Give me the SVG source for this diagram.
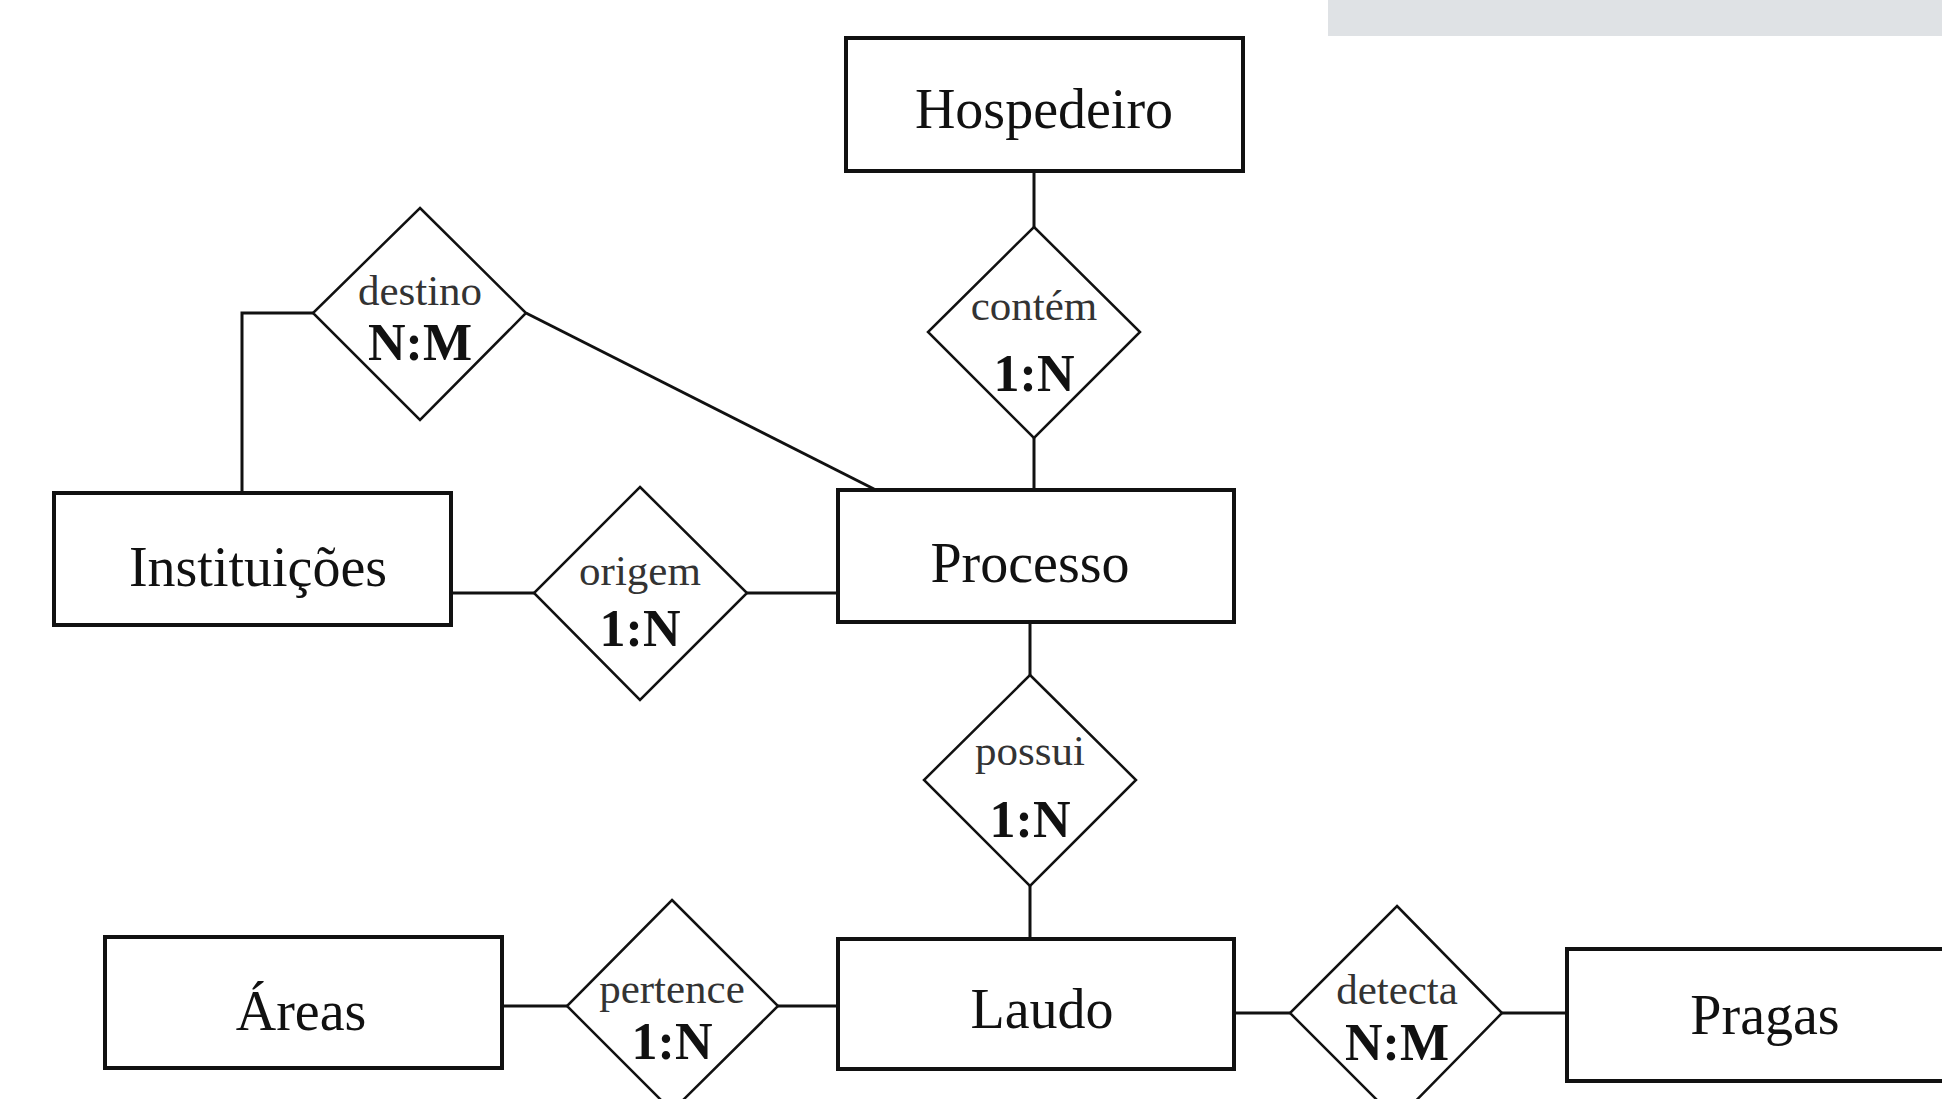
<svg xmlns="http://www.w3.org/2000/svg" width="1942" height="1099" viewBox="0 0 1942 1099">
<style>
.ent{fill:#fff;stroke:#111;stroke-width:4}
.rel{fill:#fff;stroke:#111;stroke-width:2.5}
.con{fill:none;stroke:#111;stroke-width:3}
.et{font-family:"Liberation Serif",serif;font-size:56px;fill:#111;text-anchor:middle}
.rt{font-family:"Liberation Serif",serif;font-size:43px;fill:#333;text-anchor:middle}
.rc{font-family:"Liberation Serif",serif;font-size:52px;font-weight:bold;fill:#111;text-anchor:middle}
</style>
<rect x="1328" y="0" width="614" height="36" fill="#dfe2e5"/>
<g id="connectors">
<line class="con" x1="1034" y1="171" x2="1034" y2="227"/>
<line class="con" x1="1034" y1="438" x2="1034" y2="490"/>
<polyline class="con" points="313,313 242,313 242,493"/>
<line class="con" x1="526" y1="313" x2="874" y2="489"/>
<line class="con" x1="451" y1="593" x2="534" y2="593"/>
<line class="con" x1="747" y1="593" x2="838" y2="593"/>
<line class="con" x1="1030" y1="622" x2="1030" y2="675"/>
<line class="con" x1="1030" y1="886" x2="1030" y2="939"/>
<line class="con" x1="502" y1="1006" x2="567" y2="1006"/>
<line class="con" x1="778" y1="1006" x2="838" y2="1006"/>
<line class="con" x1="1234" y1="1013" x2="1290" y2="1013"/>
<line class="con" x1="1502" y1="1013" x2="1567" y2="1013"/>
</g>
<g id="hospedeiro"><rect class="ent" x="846" y="38" width="397" height="133"/><text class="et" x="1044" y="128">Hospedeiro</text></g>
<g id="processo"><rect class="ent" x="838" y="490" width="396" height="132"/><text class="et" x="1030" y="582">Processo</text></g>
<g id="instituicoes"><rect class="ent" x="54" y="493" width="397" height="132"/><text class="et" x="258" y="586">Instituições</text></g>
<g id="laudo"><rect class="ent" x="838" y="939" width="396" height="130"/><text class="et" x="1042" y="1028">Laudo</text></g>
<g id="areas"><rect class="ent" x="105" y="937" width="397" height="131"/><text class="et" x="301" y="1030">Áreas</text></g>
<g id="pragas"><rect class="ent" x="1567" y="949" width="400" height="132"/><text class="et" x="1765" y="1034">Pragas</text></g>
<g id="contem"><polygon class="rel" points="1034,227 1140,332 1034,438 928,332"/><text class="rt" x="1034" y="320">contém</text><text class="rc" x="1034" y="391">1:N</text></g>
<g id="destino"><polygon class="rel" points="420,208 526,313 420,420 313,313"/><text class="rt" x="420" y="305">destino</text><text class="rc" x="420" y="360">N:M</text></g>
<g id="origem"><polygon class="rel" points="640,487 747,593 640,700 534,593"/><text class="rt" x="640" y="585">origem</text><text class="rc" x="640" y="646">1:N</text></g>
<g id="possui"><polygon class="rel" points="1030,675 1136,780 1030,886 924,780"/><text class="rt" x="1030" y="765">possui</text><text class="rc" x="1030" y="837">1:N</text></g>
<g id="pertence"><polygon class="rel" points="672,900 778,1006 672,1111 567,1006"/><text class="rt" x="672" y="1003">pertence</text><text class="rc" x="672" y="1059">1:N</text></g>
<g id="detecta"><polygon class="rel" points="1397,906 1502,1013 1397,1120 1290,1013"/><text class="rt" x="1397" y="1004">detecta</text><text class="rc" x="1397" y="1060">N:M</text></g>
</svg>
